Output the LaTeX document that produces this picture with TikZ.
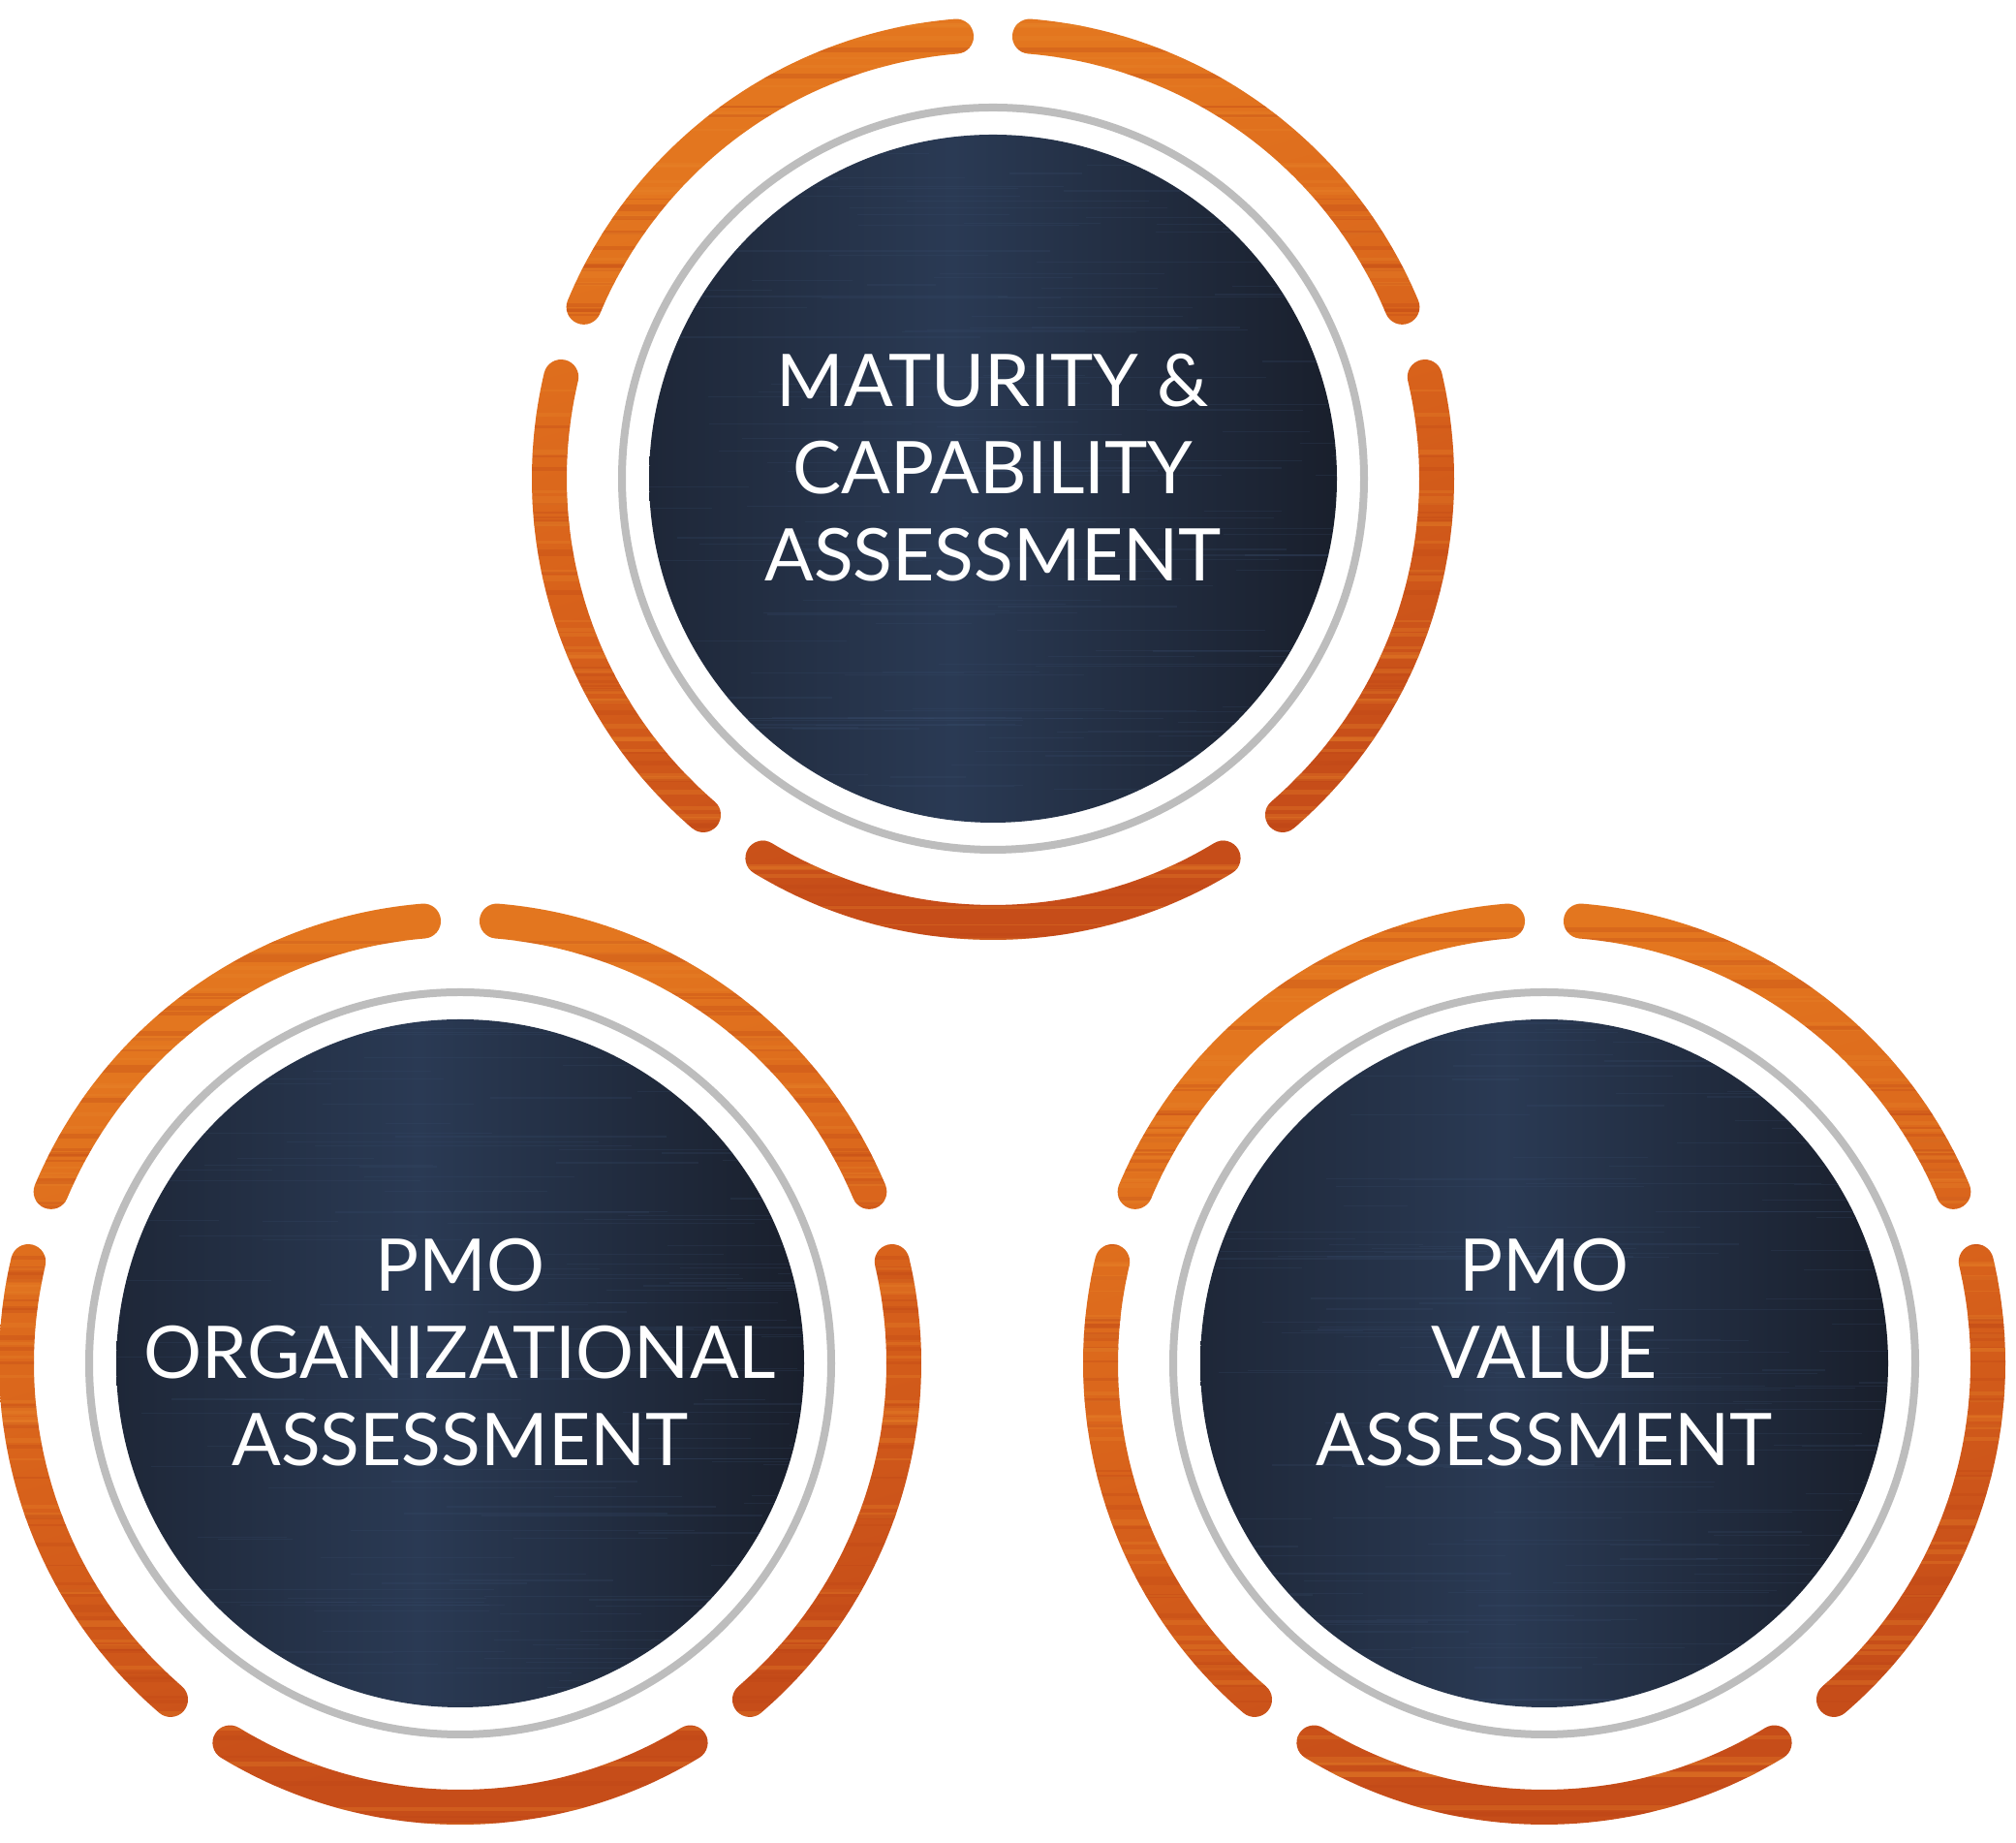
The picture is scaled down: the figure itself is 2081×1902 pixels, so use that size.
\documentclass[tikz,border=0pt]{standalone}
\usepackage{fontspec}
\setmainfont{Lato}
\usetikzlibrary{calc}
\definecolor{oLight}{HTML}{E3761F}
\definecolor{oMid}{HTML}{D8621B}
\definecolor{oDark}{HTML}{C64D19}
\definecolor{oStripeL}{HTML}{E8842A}
\definecolor{oStripeD}{HTML}{BE4516}
\definecolor{nvA}{HTML}{1E2738}
\definecolor{nvB}{HTML}{2A3A54}
\definecolor{nvC}{HTML}{191F2C}
\definecolor{nvS}{HTML}{3A4E6E}
\definecolor{ringgray}{HTML}{BDBDBD}
\pgfdeclareverticalshading{orgrad}{100bp}{color(0bp)=(oDark); color(30bp)=(oDark); color(50bp)=(oMid); color(70bp)=(oLight); color(100bp)=(oLight)}
\pgfdeclarehorizontalshading{navygrad}{100bp}{color(0bp)=(nvA); color(25bp)=(nvA); color(47bp)=(nvB); color(75bp)=(nvC); color(100bp)=(nvC)}
\newcommand\arcpiece[3]{($(#1)+(#2:476)$) arc[start angle=#2, end angle=#3, radius=476] arc[start angle=#3, end angle=#3+180, radius=18] arc[start angle=#3, end angle=#2, radius=440] arc[start angle=#2+180, end angle=#2+360, radius=18] -- cycle}
\newcommand\ringunit[1]{%
  \begin{scope}
    \clip \arcpiece{#1}{94.75}{157.25} \arcpiece{#1}{166.75}{229.25} \arcpiece{#1}{238.75}{301.25} \arcpiece{#1}{310.75}{373.25} \arcpiece{#1}{22.75}{85.25};
    \shade[shading=orgrad, shading angle=15] ($(#1)+(-480,-480)$) rectangle ($(#1)+(480,480)$);
    \foreach \i in {1,...,120}{%
      \pgfmathsetmacro\yy{rnd*960-480}%
      \pgfmathsetmacro\hh{1.5+rnd*4}%
      \pgfmathsetmacro\cc{rnd}%
      \ifdim\cc pt<0.5pt
        \fill[oStripeL, opacity=0.30] ($(#1)+(-480,\yy)$) rectangle ($(#1)+(480,\yy+\hh)$);
      \else
        \fill[oStripeD, opacity=0.28] ($(#1)+(-480,\yy)$) rectangle ($(#1)+(480,\yy+\hh)$);
      \fi
    }
  \end{scope}
  \draw[ringgray, line width=8] (#1) circle[radius=383];
  \begin{scope}
    \clip (#1) circle[radius=355];
    \shade[shading=navygrad] (#1) circle[radius=355];
    \foreach \i in {1,...,160}{%
      \pgfmathsetmacro\yy{rnd*710-355}%
      \pgfmathsetmacro\xx{rnd*760-380}%
      \pgfmathsetmacro\ll{60+rnd*300}%
      \draw[nvS, line width=1.2, opacity=0.22] ($(#1)+(\xx,\yy)$) -- ($(#1)+(\xx+\ll,\yy)$);
    }
  \end{scope}
}
\tikzset{lbl/.style={text=white, font=\fontsize{75}{90}\selectfont, anchor=base, inner sep=0pt}}
\begin{document}
\begin{tikzpicture}[x=1pt, y=1pt]
\pgfmathsetseed{7}
\fill[white] (0,0) rectangle (2081,1902);
\useasboundingbox (0,0) rectangle (2081,1902);
\coordinate (T) at (1025,1408);
\coordinate (L) at (475,495);
\coordinate (R) at (1594,495);
\ringunit{T}
\ringunit{L}
\ringunit{R}
\node[lbl] (t1) at ($(T)+(0,74)$) {MATURITY \&};
\node[lbl] (t2) at ($(T)+(0,-15.5)$) {CAPABILITY};
\node[lbl] (t3) at ($(T)+(0,-106)$) {ASSESSMENT};
\node[lbl] (l1) at ($(L)+(0,74)$) {PMO};
\node[lbl] (l2) at ($(L)+(0,-15.5)$) {ORGANIZATIONAL};
\node[lbl] (l3) at ($(L)+(0,-106)$) {ASSESSMENT};
\node[lbl] (r1) at ($(R)+(0,74)$) {PMO};
\node[lbl] (r2) at ($(R)+(0,-15.5)$) {VALUE};
\node[lbl] (r3) at ($(R)+(0,-106)$) {ASSESSMENT};
\end{tikzpicture}
\end{document}
